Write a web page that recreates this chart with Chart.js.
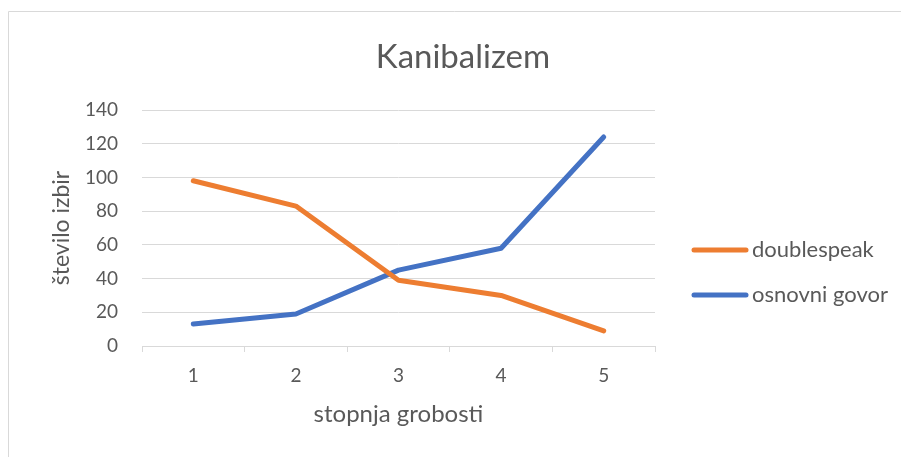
<!DOCTYPE html>
<html>
<head>
<meta charset="utf-8">
<script src="https://cdn.jsdelivr.net/npm/chart.js@4"></script>
<style>
  html, body { margin: 0; padding: 0; background: #fff; }
  #wrap { width: 901px; height: 457px; }
</style>
</head>
<body>
<div id="wrap"><canvas id="chart" width="901" height="457"></canvas></div>
<script>
// data
const categories = ['1', '2', '3', '4', '5'];
const doublespeak = [98, 83, 39, 30, 9];
const osnovniGovor = [13, 19, 45, 58, 124];
const yTicks = [0, 20, 40, 60, 80, 100, 120, 140];

const TEXT = '#595959';
const GRID = '#D9D9D9';
const FONT = 'Lato, "Open Sans", sans-serif';

// title, legend and outer frame, drawn Excel-style
const excelDecor = {
    id: 'excelDecor',
    beforeDraw(chart) {
        const ctx = chart.ctx;
        ctx.save();
        ctx.strokeStyle = GRID;
        ctx.lineWidth = 1;
        ctx.beginPath();
        ctx.moveTo(8.5, 457);
        ctx.lineTo(8.5, 11.5);
        ctx.lineTo(901, 11.5);
        ctx.stroke();
        ctx.restore();
    },
    afterDraw(chart) {
        const ctx = chart.ctx;
        ctx.save();
        ctx.fillStyle = TEXT;
        ctx.font = '33px ' + FONT;
        ctx.textAlign = 'center';
        ctx.textBaseline = 'middle';
        ctx.fillText('Kanibalizem', 463, 57);

        ctx.font = '22px ' + FONT;
        ctx.textAlign = 'left';
        chart.data.datasets.forEach((ds, i) => {
            const y = 250 + i * 45;
            ctx.strokeStyle = ds.borderColor;
            ctx.lineWidth = 5;
            ctx.lineCap = 'round';
            ctx.beginPath();
            ctx.moveTo(694, y);
            ctx.lineTo(746, y);
            ctx.stroke();
            ctx.fillText(ds.label, 752, y);
        });
        ctx.restore();
    }
};

new Chart(document.getElementById('chart'), {
    type: 'line',
    data: {
        labels: categories,
        datasets: [
            { label: 'doublespeak', data: doublespeak, borderColor: '#ED7D31', backgroundColor: '#ED7D31' },
            { label: 'osnovni govor', data: osnovniGovor, borderColor: '#4472C4', backgroundColor: '#4472C4' }
        ]
    },
    options: {
        responsive: false,
        animation: false,
        layout: { padding: { top: 110, right: 246, left: 0, bottom: 0 } },
        elements: {
            line: { borderWidth: 5, borderCapStyle: 'round', borderJoinStyle: 'round', tension: 0 },
            point: { radius: 0, hoverRadius: 0 }
        },
        plugins: {
            legend: { display: false },
            title: { display: false },
            tooltip: { enabled: false }
        },
        scales: {
            x: {
                offset: true,
                afterFit: (s) => { s.height = 111; },
                grid: { offset: true, drawOnChartArea: false, drawTicks: true, tickLength: 6, color: GRID },
                border: { color: GRID, width: 1 },
                ticks: { color: TEXT, font: { family: FONT, size: 19 }, padding: 12 },
                title: { display: true, text: 'stopnja grobosti', color: TEXT, font: { family: FONT, size: 24 }, padding: { bottom: 28 } }
            },
            y: {
                min: 0,
                max: 140,
                afterFit: (s) => { s.width = 142; },
                afterBuildTicks: (s) => { s.ticks = yTicks.map(v => ({ value: v })); },
                grid: { color: GRID, drawTicks: false },
                border: { display: false },
                ticks: { color: TEXT, font: { family: FONT, size: 19 }, padding: 24 },
                title: { display: true, text: 'število izbir', color: TEXT, font: { family: FONT, size: 23 }, padding: { top: 48 } }
            }
        }
    },
    plugins: [excelDecor]
});
</script>
</body>
</html>
